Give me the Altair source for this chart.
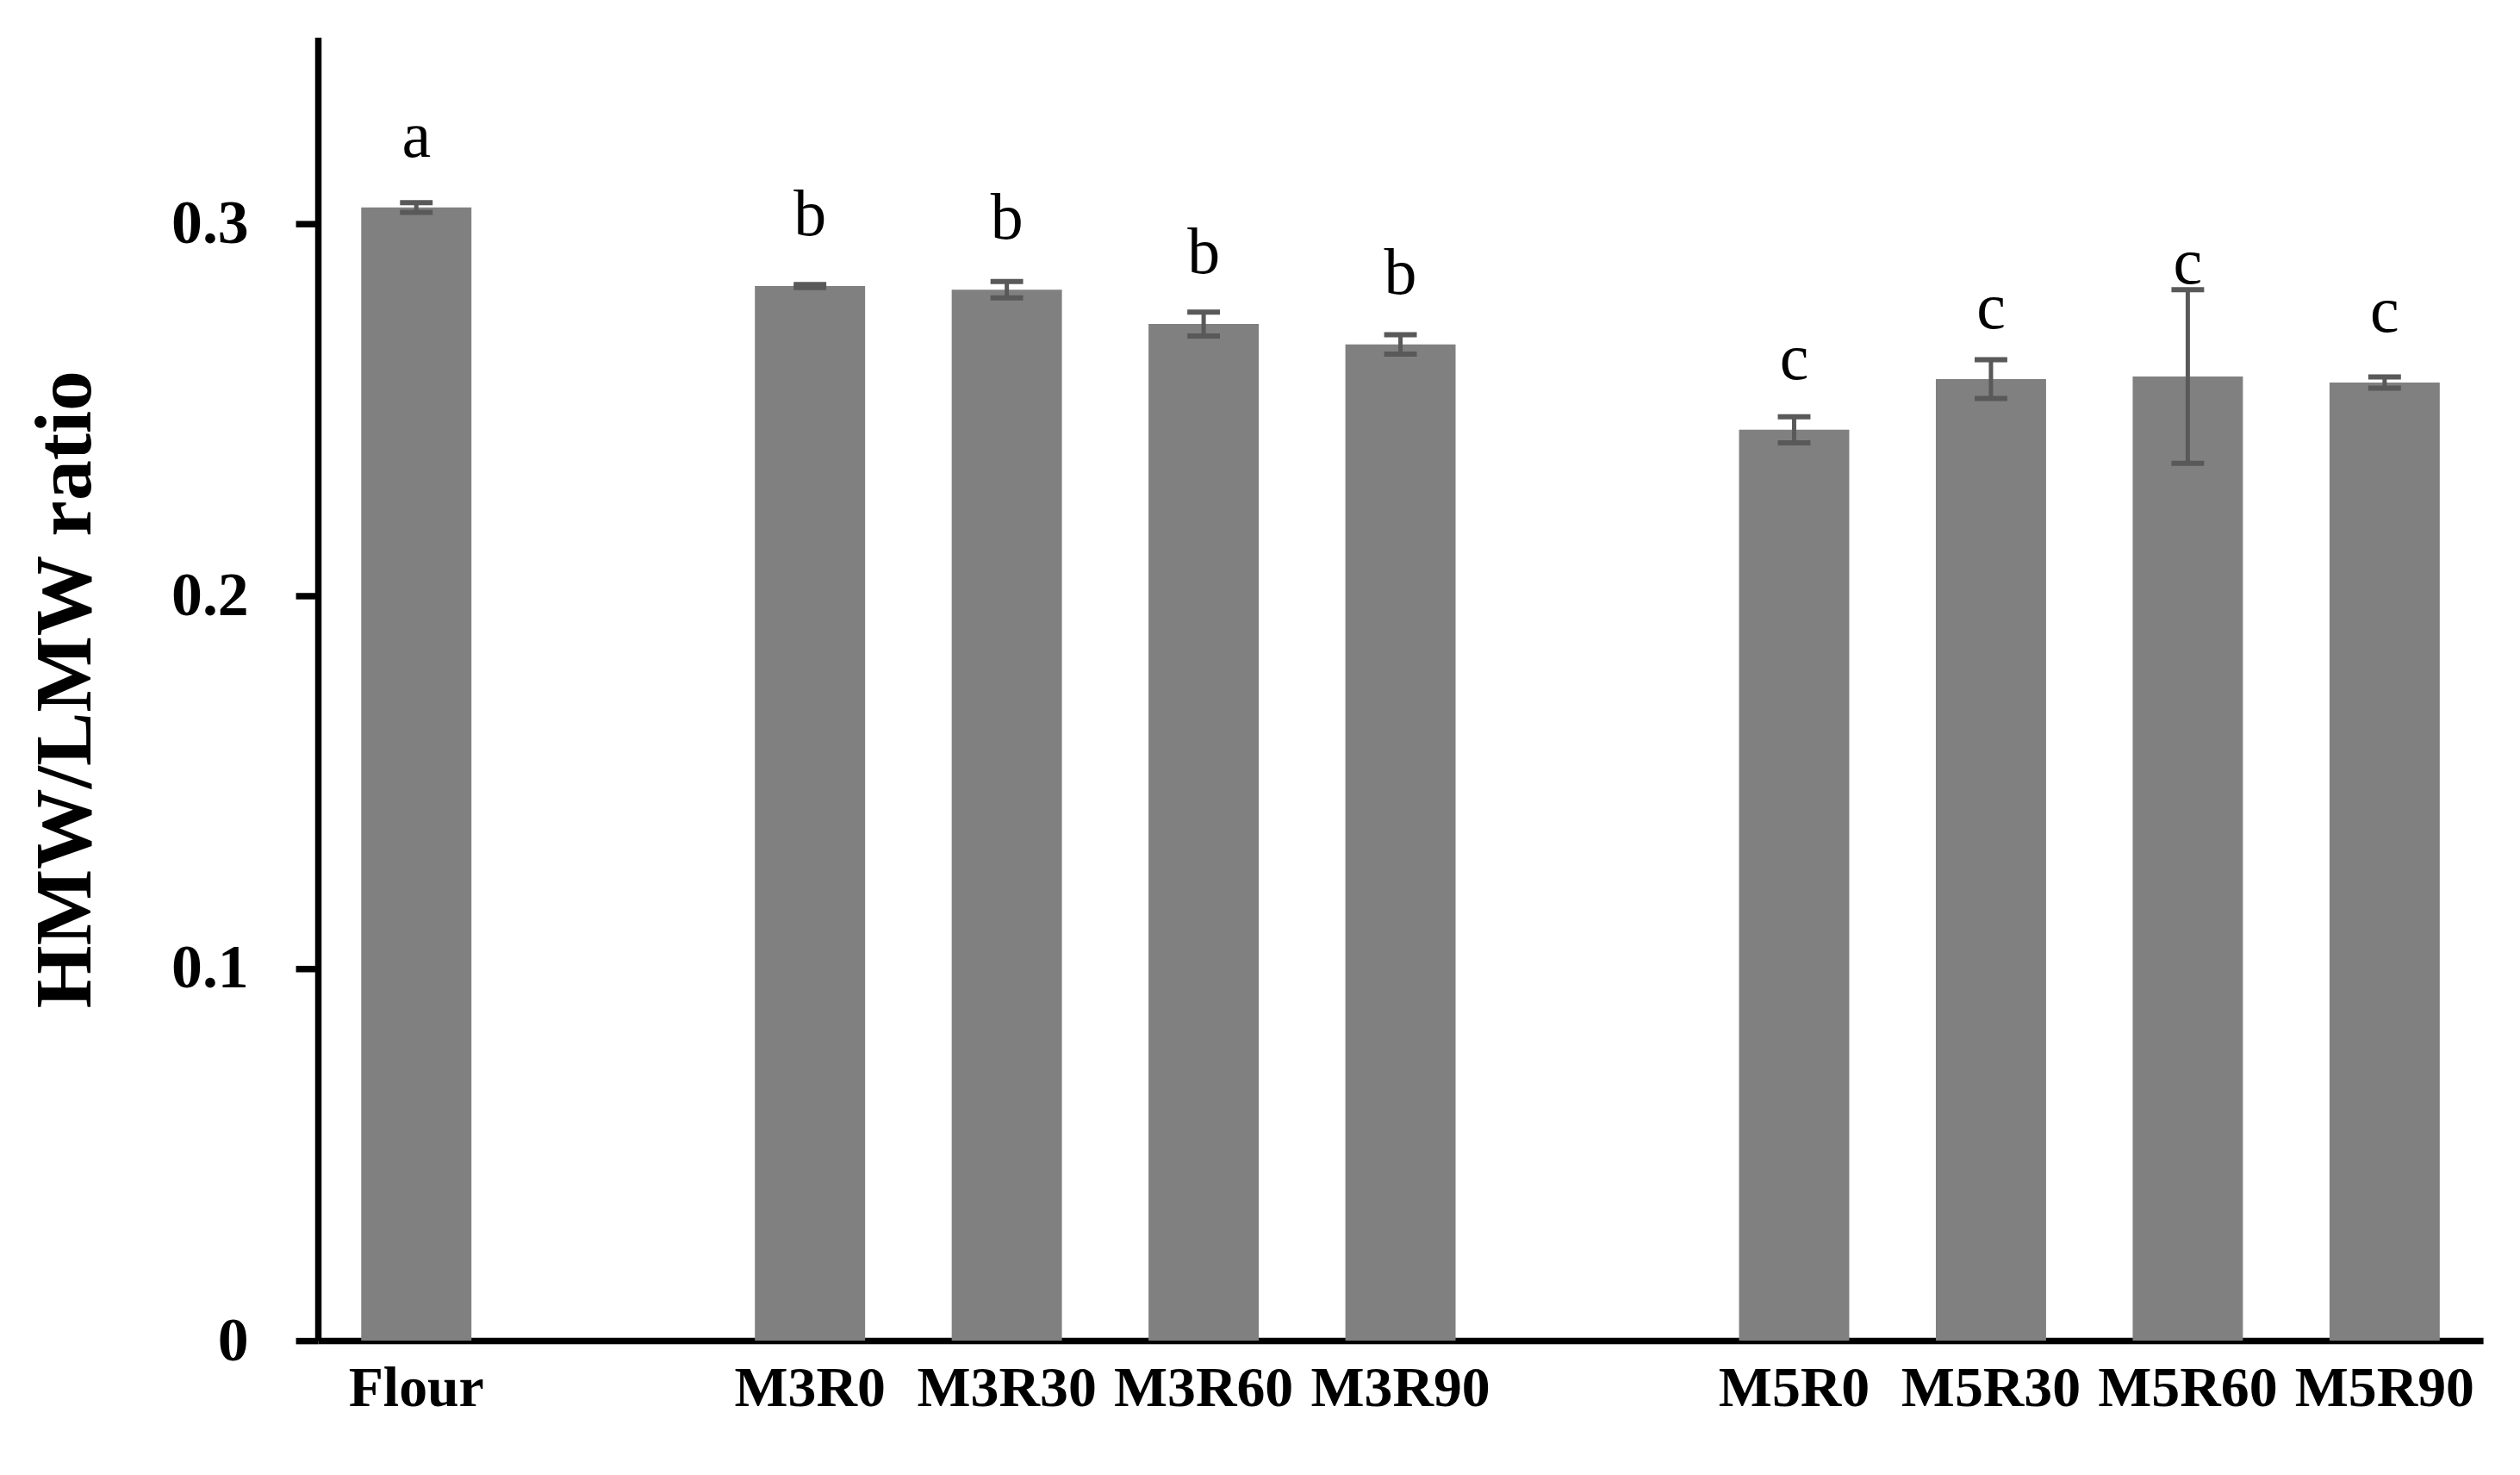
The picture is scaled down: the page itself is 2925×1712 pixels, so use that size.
import altair as alt
import pandas as pd

categories = ["Flour", "M3R0", "M3R30", "M3R60", "M3R90", "M5R0", "M5R30", "M5R60", "M5R90"]
means = [0.3043, 0.2832, 0.2822, 0.2730, 0.2675, 0.2446, 0.2582, 0.2589, 0.2573]
errors = [0.0013, 0.0004, 0.0022, 0.0032, 0.0026, 0.0035, 0.0052, 0.0233, 0.0015]
letters = ["a", "b", "b", "b", "b", "c", "c", "c", "c"]
# axis slots (blank slots separate the groups)
x_domain = ["Flour", " ", "M3R0", "M3R30", "M3R60", "M3R90", "  ", "M5R0", "M5R30", "M5R60", "M5R90"]
y_ticks = [0, 0.1, 0.2, 0.3]

df = pd.DataFrame({"cat": categories, "mean": means, "err": errors, "letter": letters})
df["lo"] = df["mean"] - df["err"]
df["hi"] = df["mean"] + df["err"]
df["lab"] = df["mean"] + (df["err"] - 0.012).clip(lower=0)

SERIF = "Liberation Serif"

x = alt.X(
    "cat:N",
    scale=alt.Scale(domain=x_domain, paddingInner=0.44, paddingOuter=0.22),
    sort=x_domain,
    axis=alt.Axis(
        title=None, labelAngle=0, ticks=False, tickSize=0, domain=True,
        domainColor="black", domainWidth=7.5,
        labelFont=SERIF, labelFontWeight="bold", labelFontSize=66,
        labelColor="black", labelPadding=24, labelLimit=0,
    ),
)
yscale = alt.Scale(domain=[0, 0.35], nice=False, zero=True)

bars = alt.Chart(df).mark_bar(color="#808080").encode(
    x=x,
    y=alt.Y(
        "mean:Q", scale=yscale,
        axis=alt.Axis(
            title="HMW/LMW ratio", values=y_ticks, format="~g", grid=False,
            domainColor="black", domainWidth=7.5,
            tickColor="black", tickWidth=7.5, tickSize=26,
            labelFont=SERIF, labelFontWeight="bold", labelFontSize=72,
            labelColor="black", labelPadding=55,
            titleFont=SERIF, titleFontWeight="bold", titleFontSize=94,
            titleColor="black", titlePadding=74,
        ),
    ),
)

stem = alt.Chart(df).mark_rule(color="#595959", strokeWidth=5).encode(
    x=x, y=alt.Y("lo:Q", scale=yscale), y2="hi:Q"
)
cap_lo = alt.Chart(df).mark_tick(color="#595959", thickness=6, size=38, opacity=1).encode(
    x=x, y=alt.Y("lo:Q", scale=yscale)
)
cap_hi = alt.Chart(df).mark_tick(color="#595959", thickness=6, size=38, opacity=1).encode(
    x=x, y=alt.Y("hi:Q", scale=yscale)
)
text = alt.Chart(df).mark_text(
    font=SERIF, fontSize=76, color="black", baseline="alphabetic", dy=-59
).encode(x=x, y=alt.Y("lab:Q", scale=yscale), text="letter:N")

chart = alt.layer(bars, stem, cap_lo, cap_hi, text).properties(
    width=2520, height=1517,
    autosize=alt.AutoSizeParams(type="none"),
    padding={"left": 362, "top": 33, "right": 35, "bottom": 154},
).configure_view(stroke=None)

chart.save("out.html", embed_options={"renderer": "svg", "actions": False})
